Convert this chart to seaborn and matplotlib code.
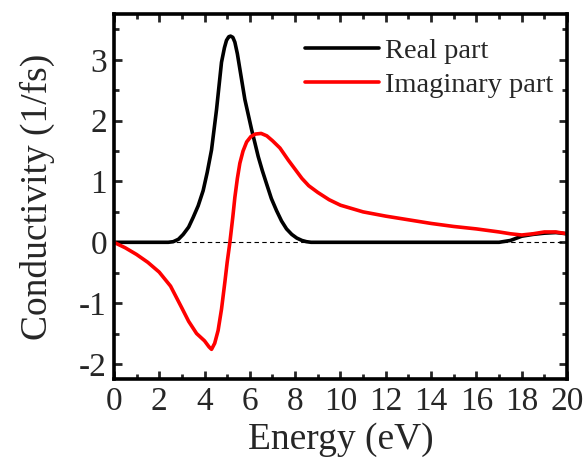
import pandas as pd
import matplotlib.pyplot as plt
import seaborn as sns
from matplotlib.ticker import MultipleLocator

# Energy (eV) and conductivity (1/fs) values
real_x = [0, 1, 2, 2.4, 2.62, 2.85, 3.06, 3.3, 3.5, 3.72, 3.94, 4.12, 4.31, 4.53,
          4.75, 4.88, 4.97, 5.07, 5.15, 5.25, 5.34, 5.45, 5.56, 5.67, 5.78, 5.93,
          6.08, 6.22, 6.37, 6.55, 6.74, 6.95, 7.18, 7.4, 7.62, 7.85, 8.07, 8.3,
          8.5, 8.7, 9.0, 10, 12, 14, 16, 17.0, 17.5, 18.0, 18.5, 19.0, 19.5, 20]
real_y = [0, 0, 0, 0, 0.01, 0.05, 0.13, 0.25, 0.41, 0.6, 0.85, 1.15, 1.52, 2.18,
          2.96, 3.2, 3.32, 3.38, 3.39, 3.37, 3.29, 3.1, 2.85, 2.6, 2.35, 2.1,
          1.85, 1.64, 1.41, 1.18, 0.96, 0.72, 0.52, 0.35, 0.22, 0.13, 0.07, 0.03,
          0.01, 0.0, 0, 0, 0, 0, 0, 0.0, 0.03, 0.1, 0.13, 0.15, 0.16, 0.14]

imag_x = [0, 0.5, 1.0, 1.5, 2.0, 2.5, 3.0, 3.3, 3.65, 4.0, 4.2, 4.31, 4.45, 4.6,
          4.75, 4.9, 5.0, 5.12, 5.25, 5.34, 5.45, 5.56, 5.7, 5.86, 6.05, 6.25,
          6.5, 6.75, 7.0, 7.33, 7.7, 8.0, 8.3, 8.6, 9.0, 9.5, 10, 11, 12, 13, 14,
          15, 16, 17, 17.5, 18, 18.5, 19, 19.5, 20]
imag_y = [0, -0.09, -0.2, -0.33, -0.49, -0.72, -1.08, -1.3, -1.5, -1.62, -1.72,
          -1.76, -1.66, -1.45, -1.1, -0.65, -0.33, 0.0, 0.42, 0.74, 1.05, 1.3,
          1.5, 1.65, 1.74, 1.78, 1.79, 1.75, 1.67, 1.55, 1.35, 1.2, 1.05, 0.93,
          0.82, 0.7, 0.61, 0.5, 0.43, 0.37, 0.31, 0.26, 0.22, 0.17, 0.14, 0.12,
          0.14, 0.17, 0.17, 0.14]

x_ticks = list(range(0, 21, 2))
y_ticks = [-2, -1, 0, 1, 2, 3]

sns.set_style('ticks')
plt.rcParams['font.family'] = ['Liberation Serif', 'DejaVu Serif']
plt.rcParams['axes.unicode_minus'] = False

fig = plt.figure(figsize=(5.87, 4.59), dpi=100)
ax = fig.add_axes([0.194, 0.174, 0.772, 0.795])

# dashed zero line
ax.axhline(0, color='black', linestyle='--', linewidth=0.8, dashes=(4, 3))

sns.lineplot(x=real_x, y=real_y, ax=ax, color='black', linewidth=2.6,
             label='Real part', sort=False)
sns.lineplot(x=imag_x, y=imag_y, ax=ax, color='red', linewidth=2.6,
             label='Imaginary part', sort=False)

ax.set_xlim(0, 20)
ax.set_ylim(-2.25, 3.75)
ax.set_xticks(x_ticks)
ax.set_yticks(y_ticks)
ax.xaxis.set_minor_locator(MultipleLocator(1))
ax.yaxis.set_minor_locator(MultipleLocator(0.5))

ax.tick_params(which='both', direction='in', top=True, right=True,
               labelsize=24, width=2, pad=5)
ax.tick_params(which='major', length=6)
ax.tick_params(which='minor', length=3.5)
for s in ax.spines.values():
    s.set_linewidth(2.6)
    s.set_color('black')

ax.set_xlabel('Energy (eV)', fontsize=27, labelpad=4)
ax.set_ylabel('Conductivity (1/fs)', fontsize=27, labelpad=17)

ax.legend(loc='upper right', frameon=False, fontsize=20.5, handlelength=2.6,
          handletextpad=0.2, labelspacing=0.3, borderaxespad=0.0,
          bbox_to_anchor=(0.995, 0.966))

fig.savefig('out.png', dpi=100)
